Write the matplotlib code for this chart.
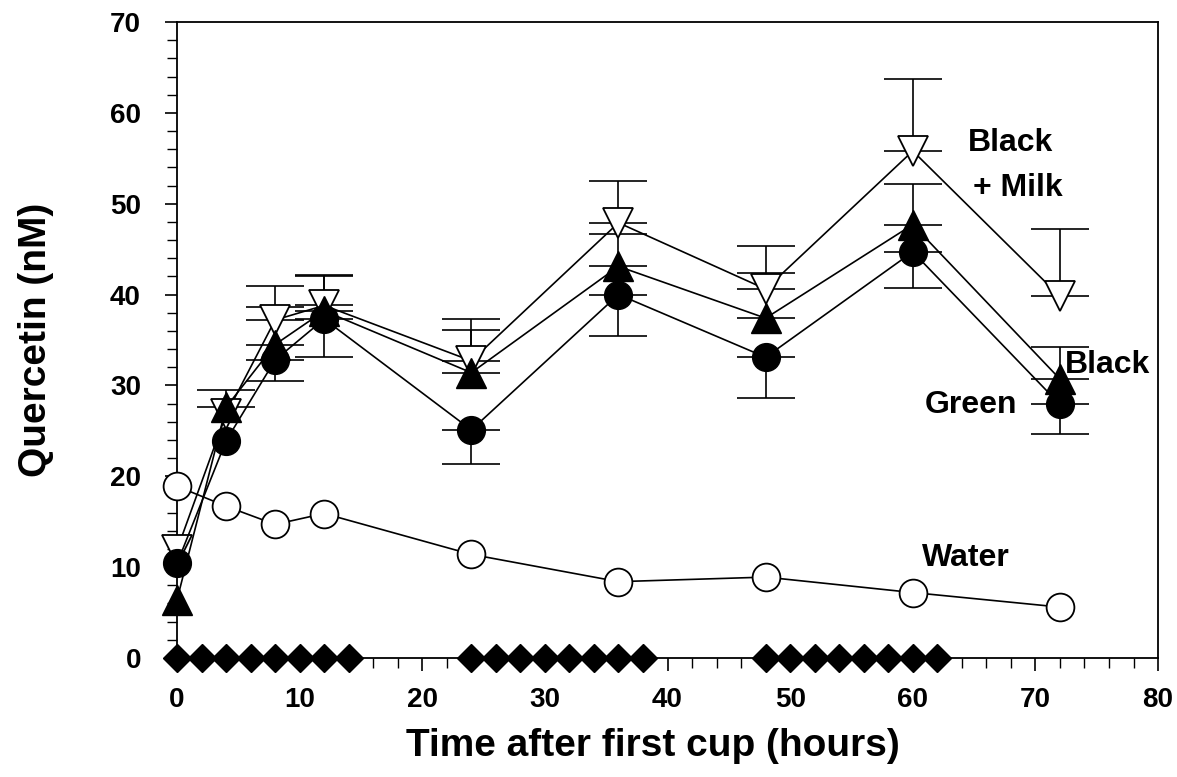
import matplotlib
matplotlib.use("Agg")
import matplotlib.pyplot as plt
from matplotlib.ticker import MultipleLocator

plt.rcParams['font.family'] = ['Liberation Sans', 'DejaVu Sans']
plt.rcParams['font.weight'] = 'bold'

# sampling times (hours)
hours = [0, 4, 8, 12, 24, 36, 48, 60, 72]

# quercetin (nM)
water = [18.9, 16.7, 14.7, 15.9, 11.4, 8.4, 8.9, 7.2, 5.6]
green = [10.4, 23.9, 32.8, 37.3, 25.1, 40.0, 33.1, 44.7, 27.9]
black = [6.4, 27.6, 34.5, 38.2, 31.4, 43.1, 37.4, 47.7, 30.7]
milk = [11.9, 26.8, 37.2, 38.8, 32.7, 47.9, 40.6, 55.8, 39.8]

# one-sided error bars as drawn (0 = none visible)
green_err = [0, 0, 2.3, 4.2, 3.8, 4.6, 4.5, 4.0, 3.3]   # below
black_err = [0, 1.9, 4.1, 3.8, 4.7, 3.6, 5.0, 4.5, 3.5]  # above
milk_err = [0, 0, 3.7, 3.4, 4.6, 4.6, 4.7, 7.9, 7.4]     # above

# cups of tea (hours)
cup_times = [0, 2, 4, 6, 8, 10, 12, 14,
             24, 26, 28, 30, 32, 34, 36, 38,
             48, 50, 52, 54, 56, 58, 60, 62]
cup_level = [0] * len(cup_times)

fig = plt.figure(figsize=(11.77, 7.77), dpi=100)
ax = fig.add_axes([0.1504, 0.1532, 0.8335, 0.8185])

lw = 1.2
ebkw = dict(fmt='none', ecolor='black', elinewidth=lw, capsize=21, capthick=lw, zorder=2)


def one_sided(ys, errs, below):
    # keep only the points that actually have a bar
    xs = [h for h, e in zip(hours, errs) if e > 0]
    yv = [y for y, e in zip(ys, errs) if e > 0]
    ev = [e for e in errs if e > 0]
    zs = [0] * len(ev)
    yerr = [ev, zs] if below else [zs, ev]
    ax.errorbar(xs, yv, yerr=yerr, **ebkw)


one_sided(green, green_err, True)
one_sided(black, black_err, False)
one_sided(milk, milk_err, False)

ax.plot(hours, water, '-o', color='black', lw=lw, ms=20, mfc='white', mec='black',
        mew=1.3, clip_on=False, zorder=3)
ax.plot(hours, milk, '-v', color='black', lw=lw, ms=21, mfc='white', mec='black',
        mew=1.3, clip_on=False, zorder=4)
ax.plot(hours, black, '-^', color='black', lw=lw, ms=21, mfc='black', mec='black',
        clip_on=False, zorder=5)
ax.plot(hours, green, '-o', color='black', lw=lw, ms=20, mfc='black', mec='black',
        clip_on=False, zorder=6)
ax.plot(cup_times, cup_level, 'D', color='black', ms=14, ls='none',
        clip_on=False, zorder=7)

ax.set_xlim(0, 80)
ax.set_ylim(0, 70)
ax.xaxis.set_major_locator(MultipleLocator(10))
ax.xaxis.set_minor_locator(MultipleLocator(2))
ax.yaxis.set_major_locator(MultipleLocator(10))
ax.yaxis.set_minor_locator(MultipleLocator(2))
ax.tick_params(which='major', direction='out', length=9, width=1.2, labelsize=20)
ax.tick_params(axis='y', which='major', pad=17)
ax.tick_params(axis='x', which='major', pad=12)
ax.tick_params(which='minor', direction='out', length=7, width=1.0)
for sp in ax.spines.values():
    sp.set_linewidth(1.3)

ax.set_xlabel('Time after first cup (hours)', fontsize=28, fontweight='bold')
ax.xaxis.label.set_va('center')
ax.xaxis.set_label_coords(0.485, -0.138)
ax.set_ylabel('Quercetin (nM)', fontsize=28, fontweight='bold', labelpad=40)

tkw = dict(fontsize=23, fontweight='bold', ha='left', va='center')
ax.text(64.5, 56.7, 'Black', **tkw)
ax.text(64.9, 51.7, '+ Milk', **tkw)
ax.text(72.4, 32.2, 'Black', **tkw)
ax.text(61.0, 27.8, 'Green', **tkw)
ax.text(60.75, 11.0, 'Water', **tkw)

fig.savefig('out.png', dpi=100)
